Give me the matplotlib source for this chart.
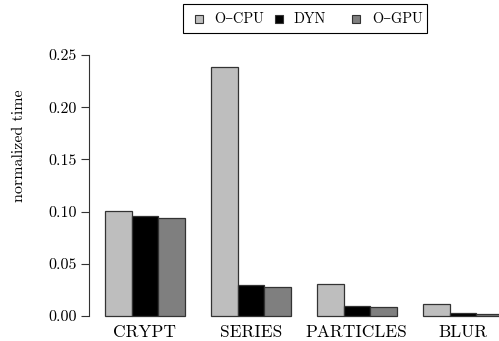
import matplotlib
matplotlib.use("Agg")
import matplotlib.pyplot as plt
import numpy as np
from matplotlib.patches import Rectangle

plt.rcParams['font.family'] = ['cmr10', 'Liberation Serif', 'DejaVu Serif']

benchmarks = ["CRYPT", "SERIES", "PARTICLES", "BLUR"]
series_names = ["O\u2212CPU", "DYN", "O\u2212GPU"]
o_cpu = [0.101, 0.2385, 0.031, 0.0112]
dyn = [0.0955, 0.030, 0.0096, 0.0033]
o_gpu = [0.0943, 0.0275, 0.009, 0.0023]
colors = ["#bebebe", "#000000", "#7f7f7f"]
yticks = [0.00, 0.05, 0.10, 0.15, 0.20, 0.25]

W, H = 499, 341
fig = plt.figure(figsize=(W / 100, H / 100), dpi=100)
# axes placed in pixel terms: left spine at x=89, y 0 at 316, 0.25 at 55
left, right, bottom, top = 89, 499, 316, 55
ax = fig.add_axes([left / W, 1 - bottom / H, (right - left) / W, (bottom - top) / H])

px_per_unit = 26.5
x0 = 1 - (105 - left) / px_per_unit
ax.set_xlim(x0, x0 + (right - left) / px_per_unit)
ax.set_ylim(0, 0.25)

data = [o_cpu, dyn, o_gpu]
group_starts = np.arange(len(benchmarks)) * 4 + 1
for j, vals in enumerate(data):
    ax.bar(group_starts + j, vals, width=1.0, align='edge', color=colors[j],
           edgecolor="#333333", linewidth=0.9, clip_on=False, zorder=3)

ax.set_xticks(group_starts + 1.5)
ax.set_xticklabels(benchmarks, fontsize=12.5)
ax.tick_params(axis='x', length=0, pad=6)
ax.set_yticks(yticks)
ax.set_yticklabels(["%.2f" % v for v in yticks], fontsize=11.5)
ax.tick_params(axis='y', length=6, width=0.8, pad=3, color="#333333")
for s in ["top", "right", "bottom"]:
    ax.spines[s].set_visible(False)
ax.spines["left"].set_color("#333333")
ax.spines["left"].set_linewidth(0.8)
ax.set_ylabel("normalized time", fontsize=11.5, va='center')
ax.yaxis.set_label_coords((19 - left) / (right - left), (bottom - 146) / (bottom - top))

# legend drawn in pixel coordinates, R style (equal-width columns)
def fx(px):
    return px / W

def fy(py):
    return 1 - py / H

fig.patches.append(Rectangle((fx(183), fy(33)), fx(244), 29 / H, transform=fig.transFigure,
                             fill=False, edgecolor="#000000", linewidth=0.8))
sq_x = [195, 275, 352]
txt_x = [214, 293, 372]
for c, name, sx, tx in zip(colors, series_names, sq_x, txt_x):
    fig.patches.append(Rectangle((fx(sx), fy(23)), fx(8), 8 / H, transform=fig.transFigure,
                                 facecolor=c, edgecolor="#333333", linewidth=0.8))
    fig.text(fx(tx), fy(19), name, fontsize=10.3, va='center', ha='left')

fig.savefig("out.png", dpi=100)
